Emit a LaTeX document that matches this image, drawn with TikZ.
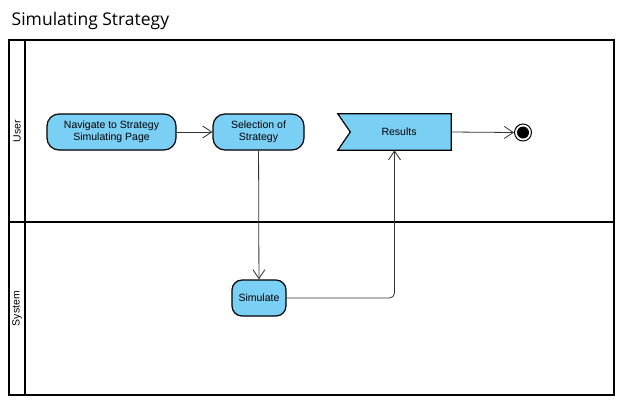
\documentclass[tikz,border=0pt]{standalone}
\usepackage{fontspec}
\setmainfont{Liberation Sans}
\newfontfamily\titlefont{Open Sans}
\usetikzlibrary{arrows.meta,calc}
\definecolor{actfill}{RGB}{122,207,245}
\definecolor{wire}{RGB}{51,51,51}
\begin{document}
\begin{tikzpicture}[x=1pt,y=-1pt,
  lane/.style={draw=black,line width=2pt},
  action/.style={draw=black,line width=1.2pt,fill=actfill,rounded corners=12pt,
    minimum height=36pt,align=center,font=\fontsize{10.5}{12.5}\selectfont,inner sep=2pt},
  flow/.style={draw=wire,line width=0.8pt,-{Straight Barb[length=9pt,width=12pt,line width=0.8pt]}},
  lanelabel/.style={rotate=90,font=\fontsize{10.5}{12}\selectfont}]
\useasboundingbox (0,0) rectangle (628,408);
\fill[white] (0,0) rectangle (628,408);

% title
\node[anchor=base west,font=\titlefont\fontsize{17.5}{20}\selectfont,inner sep=0] (title) at (11.5,25.5) {Simulating Strategy};

% swimlanes
\draw[lane] (9,40) rectangle (614,395);
\draw[lane] (25,40) -- (25,395);
\draw[lane] (9,222) -- (614,222);
\node[lanelabel] (userlane) at (17,131) {User};
\node[lanelabel] (systemlane) at (17,308.5) {System};

% actions
\node[action,minimum width=129pt] (navigate) at (111.5,132) {Navigate to Strategy\\Simulating Page};
\node[action,minimum width=91pt] (select) at (258.5,132) {Selection of\\Strategy};
\node[action,minimum width=54pt,rounded corners=10pt] (simulate) at (259,298) {Simulate};

% accept event action
\node[minimum width=113pt,minimum height=36pt,inner sep=0] (results) at (394.5,132) {};
\draw[line width=1.2pt,fill=actfill]
  (results.north west) -- (results.north east) -- (results.south east)
  -- (results.south west) -- ($(results.west)+(12.5,0)$) -- cycle;
\node[font=\fontsize{10.5}{12}\selectfont] (resultslabel) at (399,132) {Results};

% final node
\node[circle,draw=black,line width=1pt,fill=white,minimum size=17pt,inner sep=0] (final) at (523,132.5) {};
\node[circle,fill=black,minimum size=12pt,inner sep=0] (finaldot) at (final.center) {};

% flows
\draw[flow] (navigate) -- (select);
\draw[flow] (select) -- (simulate);
\draw[flow,rounded corners=5pt] (simulate.east) -| (results.south);
\draw[flow] (results.east) -- (final.west);
\end{tikzpicture}
\end{document}
